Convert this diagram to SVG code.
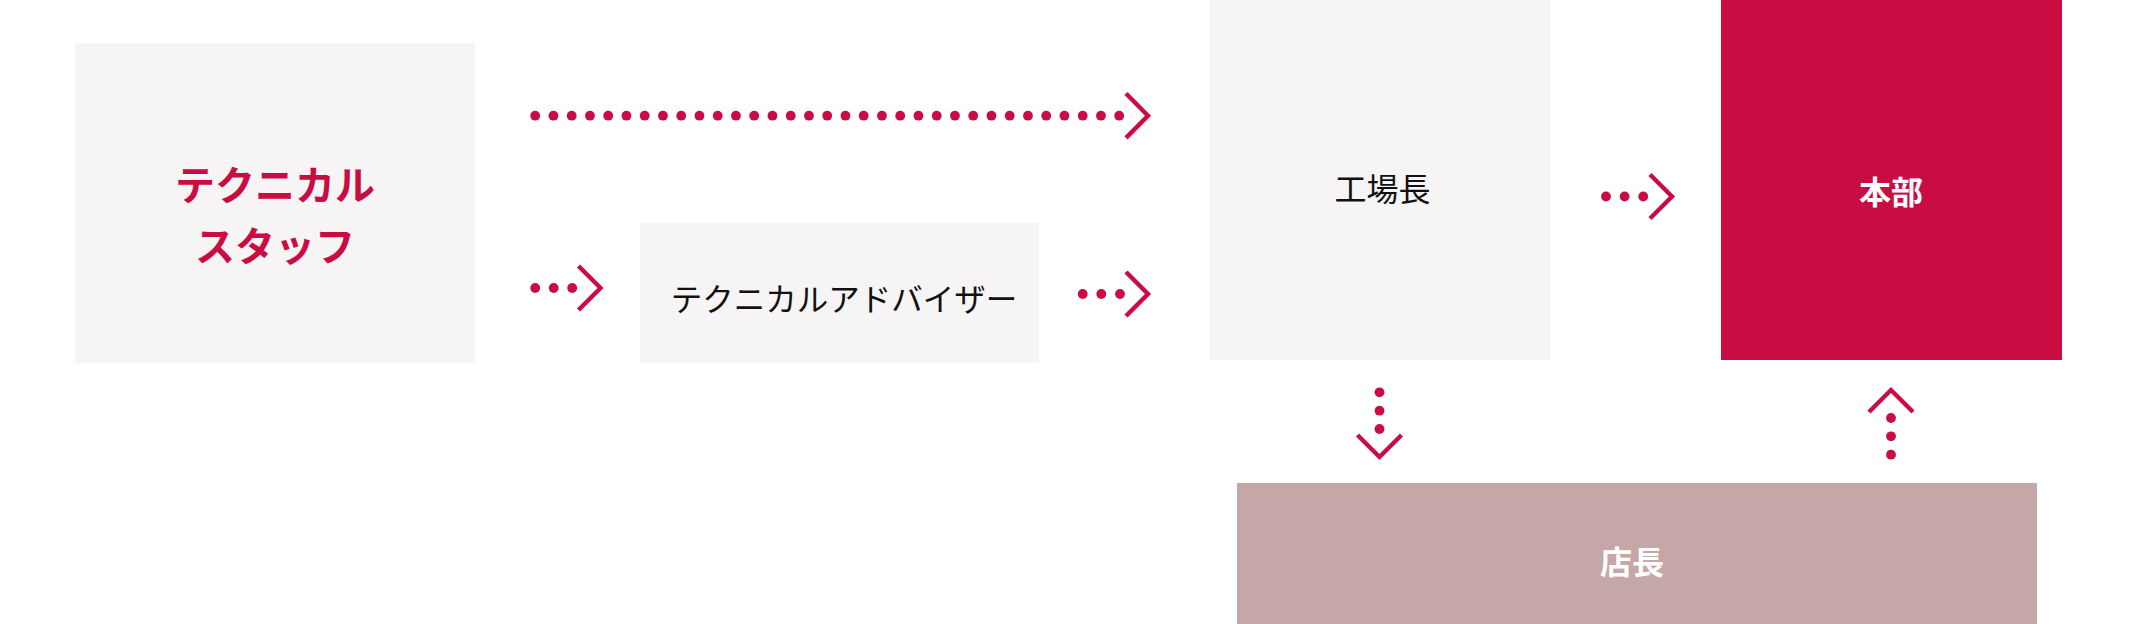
<svg xmlns="http://www.w3.org/2000/svg" width="2136" height="624" viewBox="0 0 2136 624">
  <style>
    .light { fill: #F6F4F5; }
    .red { fill: #C90D42; }
    .rose { fill: #C5A7A8; }
    .dot { fill: #C90D42; }
    .chev { fill: none; stroke: #C90D42; stroke-width: 4.4; stroke-linecap: butt; stroke-linejoin: miter; }
    .t { font-family: "Noto Sans CJK JP", "Noto Sans", sans-serif; text-anchor: middle; }
    .tb { font-weight: bold; }
  </style>
  <defs>
    <circle id="d" r="4.9" class="dot"/>
  </defs>
  <rect width="2136" height="624" fill="#FFFFFF"/>

  <g id="node-technical-staff">
    <rect class="light" x="75" y="43" width="400" height="320"/>
    <text class="t tb" x="275" y="200" font-size="40" fill="#C90D42">テクニカル</text>
    <text class="t tb" x="275" y="261" font-size="40" fill="#C90D42">スタッフ</text>
  </g>

  <g id="node-technical-advisor">
    <rect class="light" x="640" y="223" width="399" height="140"/>
    <text class="t" x="844" y="311" font-size="31.5" fill="#111111">テクニカルアドバイザー</text>
  </g>

  <g id="node-factory-manager">
    <rect class="light" x="1210" y="0" width="340" height="360"/>
    <text class="t" x="1382.5" y="201" font-size="32" fill="#111111">工場長</text>
  </g>

  <g id="node-headquarters">
    <rect class="red" x="1721" y="0" width="341" height="360"/>
    <text class="t tb" x="1891" y="204" font-size="32" fill="#FFFFFF">本部</text>
  </g>

  <g id="node-store-manager">
    <rect class="rose" x="1237" y="483" width="800" height="141"/>
    <text class="t tb" x="1632" y="574" font-size="32" fill="#FFFFFF">店長</text>
  </g>

  <g id="connectors">
    <g id="c-staff-factory">
      <use href="#d" x="535.2" y="115.7"/><use href="#d" x="553.45" y="115.7"/><use href="#d" x="571.7" y="115.7"/>
      <use href="#d" x="589.95" y="115.7"/><use href="#d" x="608.2" y="115.7"/><use href="#d" x="626.45" y="115.7"/>
      <use href="#d" x="644.7" y="115.7"/><use href="#d" x="662.95" y="115.7"/><use href="#d" x="681.2" y="115.7"/>
      <use href="#d" x="699.45" y="115.7"/><use href="#d" x="717.7" y="115.7"/><use href="#d" x="735.95" y="115.7"/>
      <use href="#d" x="754.2" y="115.7"/><use href="#d" x="772.45" y="115.7"/><use href="#d" x="790.7" y="115.7"/>
      <use href="#d" x="808.95" y="115.7"/><use href="#d" x="827.2" y="115.7"/><use href="#d" x="845.45" y="115.7"/>
      <use href="#d" x="863.7" y="115.7"/><use href="#d" x="881.95" y="115.7"/><use href="#d" x="900.2" y="115.7"/>
      <use href="#d" x="918.45" y="115.7"/><use href="#d" x="936.7" y="115.7"/><use href="#d" x="954.95" y="115.7"/>
      <use href="#d" x="973.2" y="115.7"/><use href="#d" x="991.45" y="115.7"/><use href="#d" x="1009.7" y="115.7"/>
      <use href="#d" x="1027.95" y="115.7"/><use href="#d" x="1046.2" y="115.7"/><use href="#d" x="1064.45" y="115.7"/>
      <use href="#d" x="1082.7" y="115.7"/><use href="#d" x="1100.95" y="115.7"/><use href="#d" x="1119.2" y="115.7"/>
      <polyline class="chev" points="1126,93.5 1148,115.7 1126,137.9"/>
    </g>
    <g id="c-staff-advisor">
      <use href="#d" x="535.2" y="288"/><use href="#d" x="553.7" y="288"/><use href="#d" x="572.2" y="288"/>
      <polyline class="chev" points="578.5,266 600.5,288 578.5,310"/>
    </g>
    <g id="c-advisor-factory">
      <use href="#d" x="1082.7" y="294"/><use href="#d" x="1101.3" y="294"/><use href="#d" x="1120" y="294"/>
      <polyline class="chev" points="1126,272 1148,294 1126,316"/>
    </g>
    <g id="c-factory-hq">
      <use href="#d" x="1606" y="196.5"/><use href="#d" x="1624.6" y="196.5"/><use href="#d" x="1643.2" y="196.5"/>
      <polyline class="chev" points="1650,174.5 1672,196.5 1650,218.5"/>
    </g>
    <g id="c-factory-store">
      <use href="#d" x="1379.5" y="392.3"/><use href="#d" x="1379.5" y="410.7"/><use href="#d" x="1379.5" y="429"/>
      <polyline class="chev" points="1357.5,435 1379.5,457 1401.5,435"/>
    </g>
    <g id="c-store-hq">
      <polyline class="chev" points="1869,412 1891,390 1913,412"/>
      <use href="#d" x="1891" y="418"/><use href="#d" x="1891" y="436.3"/><use href="#d" x="1891" y="454.7"/>
    </g>
  </g>
</svg>
